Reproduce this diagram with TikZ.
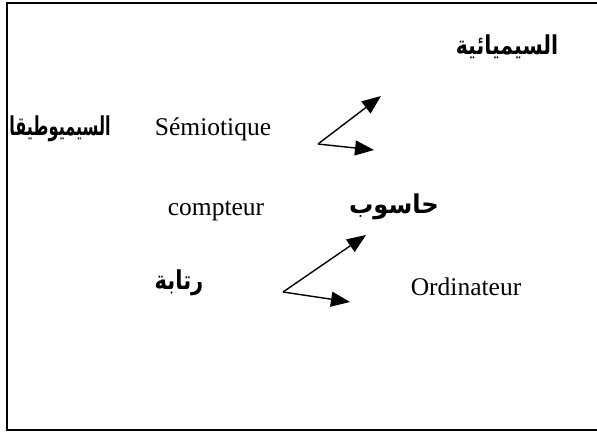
\documentclass[tikz,border=0pt]{standalone}
\usepackage{fontspec}
\setmainfont{Liberation Serif}
\newfontfamily\arabicfont[Script=Arabic]{DejaVu Sans}
\TeXXeTstate=1
\usetikzlibrary{arrows.meta}
\tikzset{
  ar/.style={font=\arabicfont\bfseries\fontsize{26}{30}\selectfont, inner sep=0pt, transform shape},
  lat/.style={font=\fontsize{25.5}{30}\selectfont, inner sep=0pt, anchor=base},
  arr/.style={line width=1.4pt, -{Triangle[length=19pt,width=15pt]}},
}
\begin{document}
\begin{tikzpicture}[x=1pt,y=-1pt]
\useasboundingbox (0,0) rectangle (597,432);
\draw[line width=1.5pt] (603,3) -- (7,3) -- (7,430) -- (603,430);
\node[ar, xscale=0.79] (semiar) at (507,47) {\beginR السيميائية\endR};
\node[ar, xscale=0.62] (semioar) at (60,129) {\beginR السيميوطيقا\endR};
\node[lat] (semio) at (213,135) {Sémiotique};
\node[lat] (compt) at (216,215) {compteur};
\node[ar, xscale=0.93] (hasub) at (394,207) {\beginR حاسوب\endR};
\node[ar, xscale=0.81] (rataba) at (179,283) {\beginR رتابة\endR};
\node[lat] (ordi) at (466,295) {Ordinateur};
\coordinate (s1) at (318,144);
\coordinate (e1) at (381,96);
\coordinate (e2) at (374,150);
\coordinate (s2) at (283,292);
\coordinate (e3) at (366,235);
\coordinate (e4) at (350,302);
\draw[arr] (s1) -- (e1);
\draw[arr] (s1) -- (e2);
\draw[arr] (s2) -- (e3);
\draw[arr] (s2) -- (e4);
\end{tikzpicture}
\end{document}
